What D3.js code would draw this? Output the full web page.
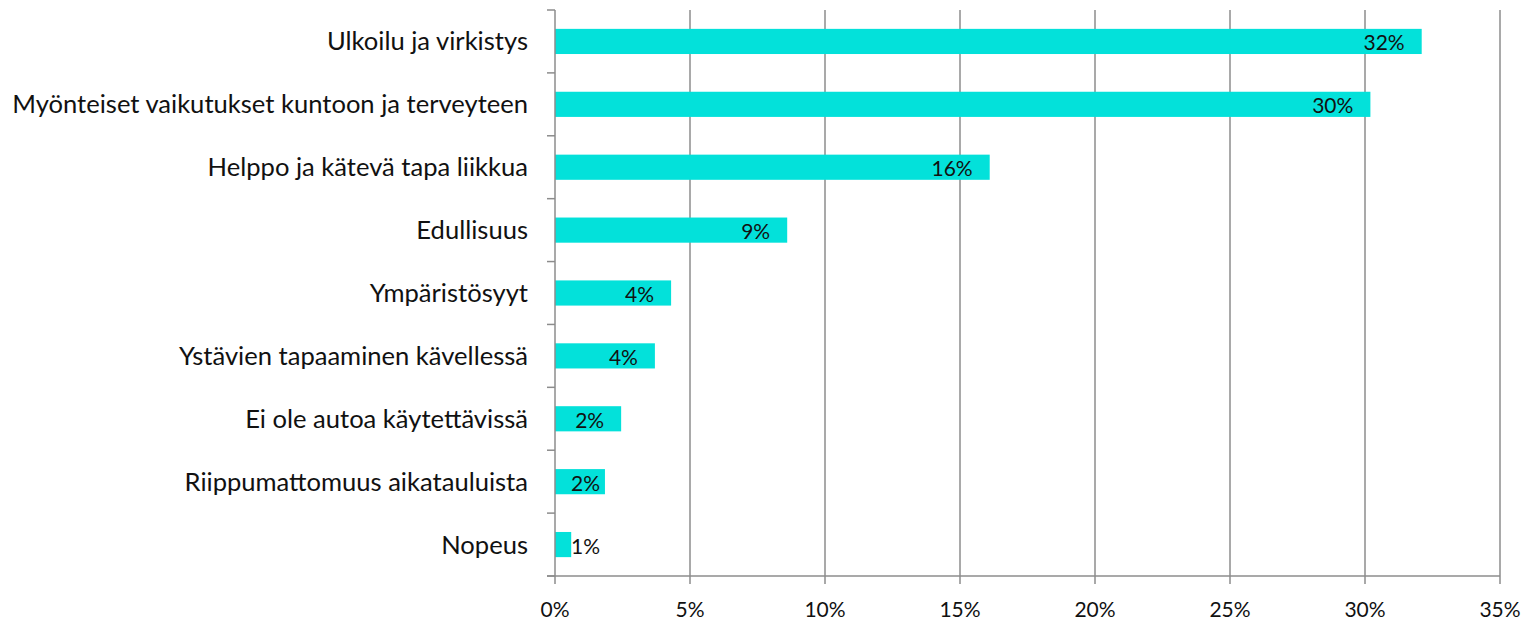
<!DOCTYPE html>
<html>
<head>
<meta charset="utf-8">
<script src="https://cdn.jsdelivr.net/npm/d3@7"></script>
<style>
  body { margin: 0; background: #fff; }
  svg { display: block; }
  text { font-family: Lato, "Open Sans", sans-serif; fill: #111; }
</style>
</head>
<body>
<script>
var categories = [
  'Ulkoilu ja virkistys',
  'Myönteiset vaikutukset kuntoon ja terveyteen',
  'Helppo ja kätevä tapa liikkua',
  'Edullisuus',
  'Ympäristösyyt',
  'Ystävien tapaaminen kävellessä',
  'Ei ole autoa käytettävissä',
  'Riippumattomuus aikatauluista',
  'Nopeus'
];
var values = [0.321, 0.302, 0.161, 0.086, 0.043, 0.037, 0.0245, 0.0185, 0.006];
var valueLabels = ['32%', '30%', '16%', '9%', '4%', '4%', '2%', '2%', '1%'];
var ticks = [0, 0.05, 0.10, 0.15, 0.20, 0.25, 0.30, 0.35];

var width = 1532, height = 625;
var plotLeft = 555, plotRight = 1500, plotTop = 10, plotBottom = 576;
var gridColor = '#8c8c8c';

var svg = d3.select('body').append('svg')
  .attr('width', width)
  .attr('height', height);

var x = d3.scaleLinear().domain([0, 0.35]).range([plotLeft, plotRight]);
var y = d3.scaleBand().domain(categories).range([plotTop, plotBottom])
  .paddingInner(0.6).paddingOuter(0.3);

// vertical gridlines
svg.append('g').selectAll('line')
  .data(ticks.slice(1))
  .enter().append('line')
    .attr('x1', function(d) { return x(d); })
    .attr('x2', function(d) { return x(d); })
    .attr('y1', plotTop)
    .attr('y2', plotBottom + 8)
    .attr('stroke', gridColor)
    .attr('stroke-width', 1.5);

// bars
svg.append('g').selectAll('rect')
  .data(values)
  .enter().append('rect')
    .attr('x', x(0))
    .attr('y', function(d, i) { return y(categories[i]); })
    .attr('width', function(d) { return x(d) - x(0); })
    .attr('height', y.bandwidth())
    .attr('fill', '#03e1da');

// left axis line + category ticks
var step = y.step();
svg.append('line')
  .attr('x1', plotLeft).attr('x2', plotLeft)
  .attr('y1', plotTop).attr('y2', plotBottom + 8)
  .attr('stroke', gridColor).attr('stroke-width', 1.5);
svg.append('g').selectAll('line')
  .data(d3.range(categories.length + 1))
  .enter().append('line')
    .attr('x1', plotLeft - 8).attr('x2', plotLeft)
    .attr('y1', function(i) { return plotTop + i * step; })
    .attr('y2', function(i) { return plotTop + i * step; })
    .attr('stroke', gridColor).attr('stroke-width', 1.5);

// bottom axis
svg.append('line')
  .attr('x1', plotLeft - 8).attr('x2', plotRight)
  .attr('y1', plotBottom).attr('y2', plotBottom)
  .attr('stroke', gridColor).attr('stroke-width', 1.5);

svg.append('g').selectAll('text')
  .data(ticks)
  .enter().append('text')
    .attr('x', function(d) { return x(d); })
    .attr('y', 617)
    .attr('text-anchor', 'middle')
    .style('font-size', '21px')
    .text(function(d) { return Math.round(d * 100) + '%'; });

// category labels
var catLabels = svg.append('g').selectAll('text')
  .data(categories)
  .enter().append('text')
    .attr('x', 528)
    .attr('y', function(d) { return y(d) + y.bandwidth() / 2; })
    .attr('dy', '0.35em')
    .attr('text-anchor', 'end')
    .style('font-size', '21px')
    .text(function(d) { return d; });

// fit the longest label to the reference width
var longest = d3.max(catLabels.nodes(), function(n) { return n.getComputedTextLength(); });
var fs = 21 * 516 / longest;
catLabels.style('font-size', fs + 'px');

// value labels, inside end
svg.append('g').selectAll('text')
  .data(values)
  .enter().append('text')
    .attr('y', function(d, i) { return y(categories[i]) + y.bandwidth() / 2 + 9; })
    .style('font-size', '21px')
    .text(function(d, i) { return valueLabels[i]; })
    .each(function(d) {
      var w = this.getComputedTextLength();
      var end = Math.max(x(d) - 17, plotLeft + 16 + w);
      d3.select(this).attr('x', end).attr('text-anchor', 'end');
    });
</script>
</body>
</html>
